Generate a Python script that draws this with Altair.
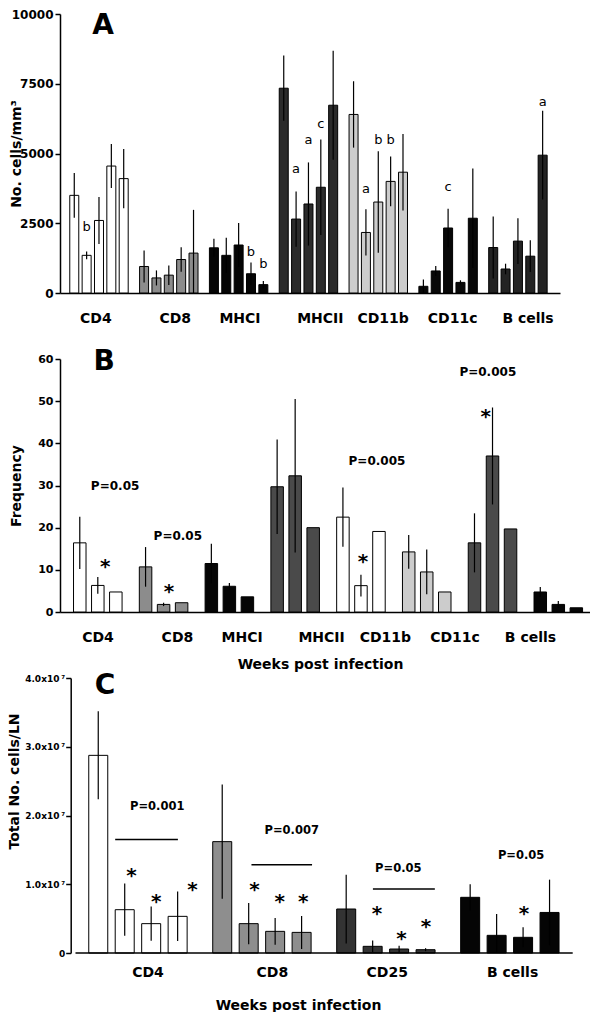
import altair as alt
import pandas as pd

FONT = "DejaVu Sans"

# ---------------- Panel A data ----------------
a_groups = ["CD4", "CD8", "MHCI", "MHCII", "CD11b", "CD11c", "B cells"]
a_colors = ["#ffffff", "#8c8c8c", "#050505", "#2b2b2b", "#cccccc", "#080808", "#232323"]
a_means = [
    [3500, 1350, 2600, 4550, 4100],
    [950, 540, 640, 1200, 1430],
    [1620, 1350, 1720, 690, 300],
    [7340, 2650, 3190, 3790, 6730],
    [6400, 2170, 3260, 4000, 4330],
    [240, 790, 2330, 380, 2680],
    [1630, 860, 1860, 1320, 4940],
]
a_errs = [
    [800, 140, 840, 790, 1060],
    [570, 270, 350, 440, 1550],
    [320, 630, 790, 400, 130],
    [1170, 990, 1490, 1710, 1950],
    [1190, 830, 1820, 890, 1370],
    [240, 180, 690, 75, 1780],
    [1110, 190, 820, 570, 1590],
]
a_label_pos = [1.71, 8.13, 13.37, 19.87, 24.95, 30.58, 36.68]
a_letter_group = [0, 2, 2, 3, 3, 3, 4, 4, 4, 5, 6]
a_letter_bar = [1, 3, 4, 1, 2, 3, 1, 2, 3, 2, 4]
a_letter_text = ["b", "b", "b", "a", "a", "c", "a", "b", "b", "c", "a"]
a_letter_y = [2360, 1470, 1030, 4430, 5500, 6040, 3710, 5500, 5500, 3790, 6840]

# ---------------- Panel B data ----------------
b_labels = ["CD4", "CD8", "MHCI", "MHCII", "CD11b", "CD11c", "B cells"]
b_label_pos = [0.98, 5.39, 8.98, 13.39, 16.93, 20.79, 24.98]
b_colors = ["#ffffff", "#8c8c8c", "#050505", "#4a4a4a", "#ffffff", "#cccccc", "#4a4a4a", "#050505"]
b_means = [
    [16.4, 6.3, 4.75],
    [10.7, 1.8, 2.2],
    [11.5, 6.1, 3.6],
    [29.7, 32.3, 20.0],
    [22.5, 6.25, 19.1],
    [14.25, 9.5, 4.75],
    [16.4, 37.0, 19.7],
    [4.75, 1.8, 1.0],
]
b_errs = [
    [6.2, 2.0, 0],
    [4.7, 0.4, 0],
    [4.7, 0.8, 0],
    [11.2, 18.2, 0],
    [7.0, 2.6, 0],
    [4.0, 5.3, 0],
    [7.0, 11.5, 0],
    [1.2, 0.8, 0],
]
b_p_text = ["P=0.05", "P=0.05", "P=0.005", "P=0.005"]
b_p_x = [1.96, 5.44, 16.49, 22.64]
b_p_y = [29.8, 18.0, 35.9, 56.8]
b_star_x = [1.41, 4.95, 15.71, 22.52]
b_star_y = [11.9, 5.9, 13.1, 47.5]

# ---------------- Panel C data ----------------
c_labels = ["CD4", "CD8", "CD25", "B cells"]
c_label_pos = [1.86, 6.56, 10.9, 15.64]
c_colors = ["#ffffff", "#8e8e8e", "#333333", "#050505"]
c_means = [
    [2.875e7, 0.63e7, 0.427e7, 0.533e7],
    [1.62e7, 0.427e7, 0.315e7, 0.30e7],
    [0.64e7, 0.097e7, 0.058e7, 0.048e7],
    [0.81e7, 0.257e7, 0.228e7, 0.59e7],
]
c_errs = [
    [0.64e7, 0.38e7, 0.25e7, 0.36e7],
    [0.83e7, 0.30e7, 0.195e7, 0.24e7],
    [0.50e7, 0.083e7, 0.049e7, 0.022e7],
    [0.19e7, 0.31e7, 0.145e7, 0.477e7],
]
c_p_text = ["P=0.001", "P=0.007", "P=0.05", "P=0.05"]
c_p_x = [2.23, 7.31, 11.34, 15.98]
c_p_y = [2.13e7, 1.77e7, 1.22e7, 1.406e7]
c_line_x1 = [0.64, 5.79, 10.38]
c_line_x2 = [3.01, 8.08, 12.72]
c_line_y = [1.65e7, 1.285e7, 0.93e7]
c_star_x = [1.26, 2.19, 3.56, 5.9, 6.86, 7.75, 10.53, 11.46, 12.39, 16.09]
c_star_y = [1.19e7, 0.82e7, 0.99e7, 0.99e7, 0.81e7, 0.81e7, 0.64e7, 0.27e7, 0.45e7, 0.64e7]
c_axis_start = -0.86
c_axis_end = 17.93


def bar_table(means, errs, colors, stride):
    rows = []
    for g, (ms, es) in enumerate(zip(means, errs)):
        for j, (m, e) in enumerate(zip(ms, es)):
            rows.append({"pos": g * stride + j, "mean": m, "err": e,
                         "lo": max(0, m - e), "hi": m + e, "color": colors[g]})
    return pd.DataFrame(rows)


def label_expr(names, positions):
    arr_n = "[" + ",".join("'%s'" % n for n in names) + "]"
    arr_p = "[" + ",".join(repr(p) for p in positions) + "]"
    return "%s[indexof(%s, datum.value)]" % (arr_n, arr_p)


def panel(df, xdom, ydom, bar_size, x_axis, y_axis):
    X = lambda f: alt.X(f, type="quantitative", scale=alt.Scale(domain=xdom, nice=False, zero=False), axis=x_axis)
    Y = lambda f: alt.Y(f, type="quantitative", scale=alt.Scale(domain=ydom, nice=False), axis=y_axis)
    bars = alt.Chart(df).mark_bar(size=bar_size, stroke="black", strokeWidth=1).encode(
        x=X("pos"), y=Y("mean"), color=alt.Color("color:N", scale=None))
    errs = alt.Chart(df[df.err > 0]).mark_rule(color="black", strokeWidth=1.2).encode(
        x=X("pos"), y=Y("lo"), y2="hi")
    return bars, errs, X, Y


def xaxis(names, positions, pad, title=None, tx=None, ty=None, domain=True):
    kw = dict(values=positions, labelExpr=label_expr(names, positions), ticks=False, tickSize=0,
              labelPadding=pad, labelFont=FONT, labelFontSize=14, labelFontWeight="bold",
              labelColor="black", labelAngle=0, labelOverlap=False, grid=False,
              domain=domain, domainColor="black", domainWidth=1.5)
    if title:
        kw.update(title=title, titleFont=FONT, titleFontSize=14, titleFontWeight="bold",
                  titleColor="black", titleX=tx, titleY=ty, titleBaseline="middle", titleAlign="center")
    else:
        kw.update(title=None)
    return alt.Axis(**kw)


def yaxis(values, title, tx, ty, fs, label_expr_s=None, fmt=None, offset=0, lpad=2):
    kw = dict(values=values, title=title, titleFont=FONT, titleFontSize=14, titleFontWeight="bold",
              titleColor="black", titleX=tx, titleY=ty, titleAngle=-90, titleAlign="center",
              titleBaseline="middle", tickSize=5, tickColor="black", tickWidth=1.5,
              labelFont=FONT, labelFontSize=fs, labelFontWeight="bold", labelColor="black",
              labelPadding=lpad, grid=False, domainColor="black", domainWidth=1.5, offset=offset)
    if label_expr_s:
        kw["labelExpr"] = label_expr_s
    if fmt:
        kw["format"] = fmt
    return alt.Axis(**kw)


NOVIEW = alt.ViewBackground(stroke=None, strokeWidth=0, strokeOpacity=0)

# ---------- Panel A ----------
A_STRIDE = 5.65
dfA = bar_table(a_means, a_errs, a_colors, A_STRIDE)
axA_x = xaxis(a_groups, a_label_pos, 18)
axA_y = yaxis([0, 2500, 5000, 7500, 10000], "No. cells/mm³", -44, 139.5, 12, fmt="d")
barsA, errsA, XA, YA = panel(dfA, [-0.75, 38.9], [0, 10000], 9, axA_x, axA_y)
letA = pd.DataFrame({"pos": [g * A_STRIDE + b for g, b in zip(a_letter_group, a_letter_bar)],
                     "y": a_letter_y, "t": a_letter_text})
lettersA = alt.Chart(letA).mark_text(font=FONT, fontSize=13, baseline="middle", color="black").encode(
    x=XA("pos"), y=YA("y"), text="t:N")
titleA = alt.Chart(pd.DataFrame({"pos": [2.34], "y": [9560], "t": ["A"]})).mark_text(
    font=FONT, fontSize=28, fontWeight="bold", baseline="middle", color="black").encode(
    x=XA("pos"), y=YA("y"), text="t:N")
chartA = alt.layer(barsA, errsA, lettersA, titleA).properties(width=500, height=279, view=NOVIEW)

# ---------- Panel B ----------
B_STRIDE = 3.65
B_UNIT_PX = 18.37
B_WIDTH = 530
b_dom = [-0.82, -0.82 + B_WIDTH / B_UNIT_PX]
dfB = bar_table(b_means, b_errs, b_colors, B_STRIDE)
axB_x = xaxis(b_labels, b_label_pos, 18, "Weeks post infection", 260, 52)
axB_y = yaxis([0, 10, 20, 30, 40, 50, 60], "Frequency", -44, 126.5, 11)
barsB, errsB, XB, YB = panel(dfB, b_dom, [0, 60], 12.5, axB_x, axB_y)
pB = pd.DataFrame({"pos": b_p_x, "y": b_p_y, "t": b_p_text})
ptextB = alt.Chart(pB).mark_text(font=FONT, fontSize=12, fontWeight="bold", baseline="middle", color="black").encode(
    x=XB("pos"), y=YB("y"), text="t:N")
sB = pd.DataFrame({"pos": b_star_x, "y": b_star_y, "t": ["*"] * len(b_star_x)})
starsB = alt.Chart(sB).mark_text(font=FONT, fontSize=20, fontWeight="bold", baseline="middle", dy=5, color="black").encode(
    x=XB("pos"), y=YB("y"), text="t:N")
titleB = alt.Chart(pd.DataFrame({"pos": [1.36], "y": [59.4], "t": ["B"]})).mark_text(
    font=FONT, fontSize=28, fontWeight="bold", baseline="middle", color="black").encode(
    x=XB("pos"), y=YB("y"), text="t:N")
chartB = alt.layer(barsB, errsB, ptextB, starsB, titleB).properties(width=B_WIDTH, height=253, view=NOVIEW)

# ---------- Panel C ----------
# the plot area of C starts 10.7 px further right than A and B: widen the scale to the
# left and pull the y axis inward by the same amount
C_SHIFT_PX = 10.7
C_UNIT_PX = 26.98
c_dom_left = c_axis_start - C_SHIFT_PX / C_UNIT_PX
C_STRIDE = 4.685
dfC = bar_table(c_means, c_errs, c_colors, C_STRIDE)
axC_x = xaxis(c_labels, c_label_pos, 12, "Weeks post infection", 238, 52, domain=False)
axC_y = yaxis([0, 1e7, 2e7, 3e7, 4e7], "Total No. cells/LN", -55.7, 103, 9,
              label_expr_s="datum.value == 0 ? '0' : format(datum.value / 1e7, '.1f') + 'x10\u2009\u2077'",
              offset=-C_SHIFT_PX, lpad=1)
barsC, errsC, XC, YC = panel(dfC, [c_dom_left, c_axis_end], [0, 4e7], 19, axC_x, axC_y)
baseC = alt.Chart(pd.DataFrame({"x1": [c_axis_start], "x2": [c_axis_end], "y": [0]})).mark_rule(
    color="black", strokeWidth=1.5).encode(x=XC("x1"), x2="x2", y=YC("y"))
pC = pd.DataFrame({"pos": c_p_x, "y": c_p_y, "t": c_p_text})
ptextC = alt.Chart(pC).mark_text(font=FONT, fontSize=11.5, fontWeight="bold", baseline="middle", color="black").encode(
    x=XC("pos"), y=YC("y"), text="t:N")
lC = pd.DataFrame({"x1": c_line_x1, "x2": c_line_x2, "y": c_line_y})
linesC = alt.Chart(lC).mark_rule(color="black", strokeWidth=1.5).encode(
    x=XC("x1"), x2="x2", y=YC("y"))
sC = pd.DataFrame({"pos": c_star_x, "y": c_star_y, "t": ["*"] * len(c_star_x)})
starsC = alt.Chart(sC).mark_text(font=FONT, fontSize=20, fontWeight="bold", baseline="middle", dy=5, color="black").encode(
    x=XC("pos"), y=YC("y"), text="t:N")
titleC = alt.Chart(pd.DataFrame({"pos": [0.26], "y": [3.89e7], "t": ["C"]})).mark_text(
    font=FONT, fontSize=28, fontWeight="bold", baseline="middle", color="black").encode(
    x=XC("pos"), y=YC("y"), text="t:N")
chartC = alt.layer(barsC, errsC, baseC, linesC, ptextC, starsC, titleC).properties(
    width=507 + C_SHIFT_PX, height=275, view=NOVIEW)

chart = alt.vconcat(chartA, chartB, chartC, spacing=66, bounds="flush").properties(
    padding={"left": 0, "top": 0, "right": 0, "bottom": 0}
).configure_view(strokeWidth=0, strokeOpacity=0).configure(font=FONT)

chart.save("out.html", embed_options={"renderer": "svg", "actions": False})
